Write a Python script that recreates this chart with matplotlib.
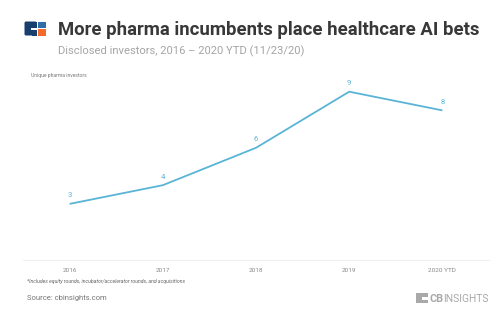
import matplotlib.pyplot as plt
from matplotlib.patches import Rectangle, FancyBboxPatch

years = ["2016", "2017", "2018", "2019", "2020 YTD"]
investors = [3, 4, 6, 9, 8]

W, H = 499, 321
fig = plt.figure(figsize=(W / 100, H / 100), dpi=100)
fig.patch.set_facecolor("white")

def fx(px):
    return px / W

def fy(py):
    return 1 - py / H

# chart area
ax = fig.add_axes([fx(23), fy(260), fx(489) - fx(23), fy(73) - fy(260)])
xs = range(len(years))
ax.plot(xs, investors, color="#5ab4d6", lw=1.3, solid_capstyle="butt")
for x, v in zip(xs, investors):
    ax.text(x, v + 0.3, str(v), ha="center", va="bottom", fontsize=5.5,
            color="#5ab4d6", family="Roboto")
ax.set_xlim(-0.5, 4.5)
ax.set_ylim(0, 10)
ax.set_yticks([])
ax.set_xticks(list(xs))
ax.set_xticklabels(years, fontsize=4.6, color="#8a8a8a", family="Roboto")
ax.tick_params(axis="x", length=0, pad=6)
for s in ["top", "right", "left"]:
    ax.spines[s].set_visible(False)
ax.spines["bottom"].set_color("#ececec")
ax.spines["bottom"].set_linewidth(0.6)
ax.set_facecolor("none")

# header logo
la = fig.add_axes([0, 0, 1, 1], facecolor="none")
la.set_xlim(0, W)
la.set_ylim(H, 0)
la.axis("off")
la.add_patch(FancyBboxPatch((24.5, 21.5), 12, 14, boxstyle="round,pad=0,rounding_size=1.5",
                            color="#173f6e", lw=0))
la.add_patch(Rectangle((32, 21.5), 5, 14, color="#173f6e", lw=0))
la.add_patch(Rectangle((31, 27.5), 6, 2.5, color="white", lw=0))
la.add_patch(Rectangle((38.5, 21.5), 7.5, 6.5, color="#2f6ea8", lw=0))
la.add_patch(Rectangle((38.5, 29), 7.5, 6.5, color="#f26b2a", lw=0))

# CB Insights mark in the footer
la.add_patch(Rectangle((416, 293), 12, 10, color="#a9a9a9", lw=0))
la.add_patch(Rectangle((422, 296.5), 6, 3, color="white", lw=0))

fig.text(fx(58), fy(30), "More pharma incumbents place healthcare AI bets",
         fontsize=13.3, fontweight="bold", color="#383838", va="center",
         family="Roboto")
fig.text(fx(58), fy(51), "Disclosed investors, 2016 \u2013 2020 YTD (11/23/20)",
         fontsize=8.1, color="#a5a5a5", va="center", family="Roboto")
fig.text(fx(31), fy(76), "Unique pharma investors", fontsize=3.6,
         color="#777777", va="center", family="Roboto")
fig.text(fx(27), fy(281),
         "*Includes equity rounds, incubator/accelerator rounds, and acquisitions",
         fontsize=3.7, color="#666666", style="italic", va="center",
         family="Roboto")
fig.text(fx(27), fy(298), "Source: cbinsights.com", fontsize=5.5,
         color="#777777", va="center", family="Roboto")
fig.text(fx(430), fy(298.5), "CB", fontsize=7.8, fontweight="bold",
         color="#a9a9a9", va="center", family="Roboto")
fig.text(fx(443), fy(298.5), "INSIGHTS", fontsize=7.4, color="#a9a9a9",
         va="center", family="Roboto")

fig.savefig("out.png", dpi=100)
